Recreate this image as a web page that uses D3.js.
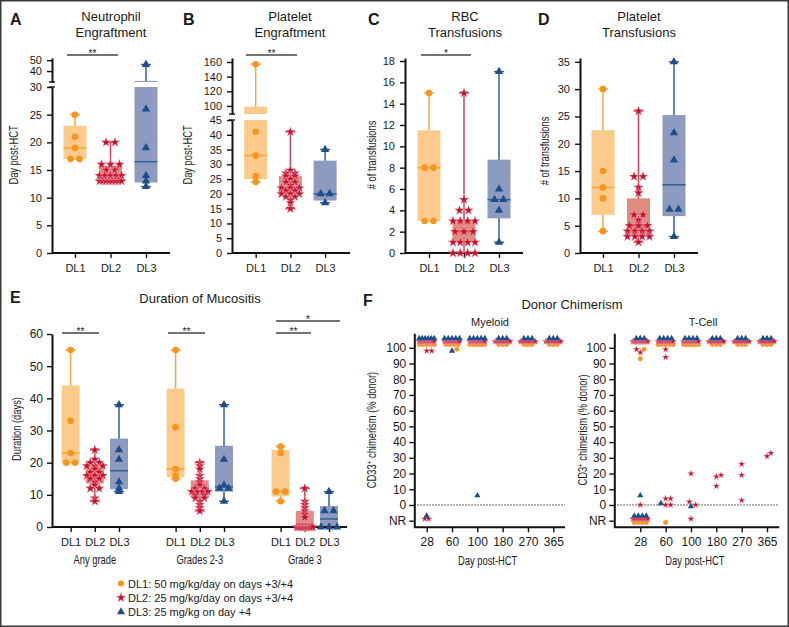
<!DOCTYPE html>
<html>
<head>
<meta charset="utf-8">
<script src="https://cdn.jsdelivr.net/npm/d3@7"></script>
<style>
  body { margin: 0; background: #fff; }
  svg { display: block; }
  text { font-family: "Liberation Sans", Arial, Helvetica, sans-serif; fill: #1a1a1a; }
</style>
</head>
<body>
<script>
// ---- data ----
var doseLevels = ["DL1", "DL2", "DL3"];
var doseLabels = ["DL1: 50 mg/kg/day on days +3/+4", "DL2: 25 mg/kg/day on days +3/+4", "DL3: 25 mg/kg on day +4"];

// A neutrophil engraftment (day post-HCT)
var neutDL1 = [25, 21, 19, 17, 17];
var neutDL2 = [20, 20, 16, 16, 16, 15, 15, 14, 14, 14, 14, 14, 13, 13, 13, 13, 13, 13, 13, 13];
var neutDL3 = [46, 26, 19, 14, 13, 12];
// B platelet engraftment
var pltEngDL1 = [157, 41, 33, 26, 24];
var pltEngDL2 = [41, 28, 27, 27, 26, 26, 25, 24, 24, 23, 22, 22, 22, 21, 21, 20, 20, 20, 19, 19, 18, 17, 15];
var pltEngDL3 = [35, 20, 20, 17];
// C RBC transfusions
var rbcDL1 = [15, 8, 8, 3, 3];
var rbcDL2 = [15, 5, 4, 4, 3, 3, 3, 3, 2, 2, 2, 1, 1, 1, 1, 0, 0, 0, 0];
var rbcDL3 = [17, 6, 5, 5, 4, 1];
// D platelet transfusions
var pltTxDL1 = [30, 15, 12, 10, 4];
var pltTxDL2 = [26, 14, 14, 12, 11, 7, 7, 6, 5, 5, 5, 4, 4, 4, 4, 3, 3, 3, 3, 2];
var pltTxDL3 = [35, 22, 17, 8, 8, 3];
// E duration of mucositis (days)
var mucGrades = ["Any grade", "Grades 2-3", "Grade 3"];
var mucAnyDL1 = [55, 33, 23, 20, 20];
var mucAnyDL2 = [24, 21, 20, 20, 19, 19, 19, 18, 17, 17, 16, 16, 16, 15, 15, 14, 13, 12, 12, 9, 8];
var mucAnyDL3 = [38, 24, 21, 14, 12, 11];
var mucG23DL1 = [55, 31, 18, 16, 15];
var mucG23DL2 = [20, 19, 18, 16, 15, 14, 13, 12, 12, 11, 11, 11, 11, 10, 10, 9, 9, 8, 7, 6, 5];
var mucG23DL3 = [38, 21, 13, 12, 12, 8];
var mucG3DL1 = [25, 23, 11, 11, 8];
var mucG3DL2 = [12, 8, 7, 6, 5, 4, 3, 0, 0, 0, 0, 0, 0, 0, 0, 0, 0, 0, 0];
var mucG3DL3 = [11, 5, 5, 0, 0, 0];

// F donor chimerism: [day, % donor or "NR", number of patients]
var chimDays = ["28", "60", "100", "180", "270", "365"];
var myeloidDL1 = [["28", 100, 5], ["60", 100, 4], ["60", 99, 1], ["100", 100, 6], ["180", 100, 3], ["270", 100, 3], ["365", 100, 3]];
var myeloidDL2 = [["28", 100, 18], ["28", 98, 1], ["28", 98, 1], ["28", "NR", 2], ["60", 100, 16], ["100", 100, 18],
                  ["180", 100, 12], ["270", 100, 10], ["365", 100, 10]];
var myeloidDL3 = [["28", 100, 6], ["28", "NR", 1], ["60", 100, 5], ["60", 98, 1], ["100", 100, 5], ["100", 6, 1],
                  ["180", 100, 3], ["270", 100, 3], ["365", 100, 3]];
var tcellDL1 = [["28", 99, 1], ["28", 93, 1], ["28", "NR", 4], ["60", 100, 5], ["60", "NR", 1], ["100", 100, 7],
                ["180", 100, 3], ["270", 100, 3], ["365", 100, 3]];
var tcellDL2 = [["28", 100, 15], ["28", 99, 1], ["28", 97, 1], ["28", 0, 1], ["28", "NR", 10],
                ["60", 100, 14], ["60", 99, 1], ["60", 94, 1], ["60", 4, 1], ["60", 4, 1], ["60", 0, 1], ["60", 0, 1],
                ["100", 100, 16], ["100", 20, 1], ["100", 2, 1], ["100", 0, 1], ["100", "NR", 1],
                ["180", 100, 12], ["180", 19, 1], ["180", 18, 1], ["180", 12, 1],
                ["270", 100, 10], ["270", 26, 1], ["270", 19, 1], ["270", 3, 1],
                ["365", 100, 10], ["365", 33, 1], ["365", 31, 1]];
var tcellDL3 = [["28", 100, 3], ["28", 6, 1], ["28", "NR", 4], ["60", 100, 4], ["60", 1, 1], ["100", 100, 4], ["100", -1, 1],
                ["180", 100, 3], ["270", 100, 3], ["365", 100, 3]];

// ---- styles ----
var colors = {DL1: "#F7941D", DL2: "#C8102E", DL3: "#1D4E89"};
var lineColors = {DL1: "#F8A441", DL2: "#D3405A", DL3: "#2E5F98"};
var fills = {DL1: "#FCCB8C", DL2: "#E08B80", DL3: "#8D9BC0"};
var shapes = {DL1: d3.symbolCircle, DL2: d3.symbolStar, DL3: d3.symbolTriangle};
var boxSizes = {DL1: 34, DL2: 30, DL3: 30};
var chimSizes = {DL1: 19, DL2: 15, DL3: 17};
var legendSizes = {DL1: 28, DL2: 30, DL3: 28};
// rows of 100% / NR values are drawn slightly apart per dose level so they don't hide each other
var fullNudge = {DL1: 2, DL2: 4, DL3: 6};
var nrNudge = {DL1: -1.2, DL2: 1.2, DL3: 3};

var svg = d3.select("body").append("svg").attr("width", 789).attr("height", 627);
svg.append("rect")
    .attr("x", 0.75).attr("y", 0.75).attr("width", 787.5).attr("height", 625.5)
    .attr("fill", "#fff").attr("stroke", "#3a3a3a").attr("stroke-width", 1.5);

function marker(g, dl, size, x, y) {
    g.append("path")
        .attr("d", d3.symbol().type(shapes[dl]).size(size)())
        .attr("transform", "translate(" + x + "," + y + ")")
        .attr("fill", colors[dl])
        .attr("stroke", dl === "DL2" ? "#f0b9c1" : "none")
        .attr("stroke-width", 0.4);
}

// quartiles the way Prism does it (position p*(n+1))
function quartile(s, p) {
    var n = s.length, pos = p * (n + 1);
    if (pos <= 1) return s[0];
    if (pos >= n) return s[n - 1];
    var i = Math.floor(pos);
    return s[i - 1] + (pos - i) * (s[i] - s[i - 1]);
}
function boxStats(vals) {
    var s = vals.slice().sort(d3.ascending);
    return {min: s[0], q1: quartile(s, 0.25), med: quartile(s, 0.5), q3: quartile(s, 0.75), max: s[s.length - 1]};
}

function styleAxis(sel, fontSize) {
    sel.select(".domain").attr("stroke", "#111").attr("stroke-width", 2);
    sel.selectAll(".tick line").attr("stroke", "#111").attr("stroke-width", 1.4);
    sel.selectAll(".tick text").attr("font-size", fontSize).attr("fill", "#1a1a1a");
}

function narrowText(x, y, txt, size, rotate) {
    return svg.append("text")
        .attr("transform", "translate(" + x + "," + y + ")" + (rotate ? " rotate(-90)" : "") + " scale(0.78,1)")
        .attr("text-anchor", "middle")
        .attr("font-size", size)
        .text(txt);
}

function title(x, y, lines, size) {
    lines.forEach(function (l, i) {
        svg.append("text").attr("x", x).attr("y", y + i * 16).attr("text-anchor", "middle")
            .attr("font-size", size).text(l);
    });
}

function letter(x, y, t) {
    svg.append("text").attr("x", x).attr("y", y).attr("font-size", 16).attr("font-weight", "bold").text(t);
}

function sigBar(x1, x2, y, label) {
    svg.append("line").attr("x1", x1).attr("x2", x2).attr("y1", y).attr("y2", y)
        .attr("stroke", "#444").attr("stroke-width", 1.3);
    svg.append("text").attr("x", (x1 + x2) / 2).attr("y", y + 1.5).attr("text-anchor", "middle")
        .attr("font-size", 10).text(label);
}

// ---- box + scatter panels ----
function drawBoxPanel(p) {
    var inner = d3.scalePoint().domain(doseLevels).range([-p.d, p.d]);
    var g = svg.append("g");
    var scales = [];

    p.segments.forEach(function (seg, si) {
        var y = d3.scaleLinear().domain(seg.domain).range(seg.range);
        scales.push(y);
        var clipId = p.id + "clip" + si;
        svg.append("clipPath").attr("id", clipId).append("rect")
            .attr("x", p.x0 + 1).attr("y", seg.range[1])
            .attr("width", p.x1 - p.x0).attr("height", seg.range[0] - seg.range[1]);
        var cg = g.append("g").attr("clip-path", "url(#" + clipId + ")");

        p.groups.forEach(function (grp) {
            grp.series.forEach(function (vals, i) {
                var dl = doseLevels[i], b = boxStats(vals), cx = grp.center + inner(dl);
                cg.append("line").attr("x1", cx).attr("x2", cx).attr("y1", y(b.min)).attr("y2", y(b.max))
                    .attr("stroke", lineColors[dl]).attr("stroke-width", 1.5);
                [b.min, b.max].forEach(function (v) {
                    cg.append("line").attr("x1", cx - p.capW / 2).attr("x2", cx + p.capW / 2)
                        .attr("y1", y(v)).attr("y2", y(v))
                        .attr("stroke", lineColors[dl]).attr("stroke-width", 1.5);
                });
                cg.append("rect").attr("x", cx - p.boxW / 2).attr("width", p.boxW)
                    .attr("y", y(b.q3)).attr("height", Math.max(0, y(b.q1) - y(b.q3)))
                    .attr("fill", fills[dl]);
                cg.append("line").attr("x1", cx - p.boxW / 2).attr("x2", cx + p.boxW / 2)
                    .attr("y1", y(b.med)).attr("y2", y(b.med))
                    .attr("stroke", lineColors[dl]).attr("stroke-width", 1.5);
            });
        });

        var ax = g.append("g").attr("transform", "translate(" + p.x0 + ",0)")
            .call(d3.axisLeft(y).tickValues(seg.ticks).tickSize(5).tickPadding(p.tickPad).tickSizeOuter(0));
        styleAxis(ax, p.tickFont);
    });

    // axis break caps
    if (p.segments.length > 1) {
        [p.segments[0].range[1], p.segments[1].range[0]].forEach(function (yy) {
            g.append("line").attr("x1", p.x0 - 3).attr("x2", p.x0 + 3).attr("y1", yy).attr("y2", yy)
                .attr("stroke", "#111").attr("stroke-width", 1.4);
        });
    }

    // x axis
    g.append("line").attr("x1", p.x0).attr("x2", p.x1).attr("y1", p.yb).attr("y2", p.yb)
        .attr("stroke", "#111").attr("stroke-width", 2);
    p.groups.forEach(function (grp) {
        var xa = g.append("g").attr("transform", "translate(" + grp.center + "," + p.yb + ")")
            .call(d3.axisBottom(inner).tickSize(5).tickPadding(6).tickSizeOuter(0));
        xa.select(".domain").remove();
        styleAxis(xa, p.xFont);
    });

    // points, equal values side by side
    p.groups.forEach(function (grp) {
        grp.series.forEach(function (vals, i) {
            var dl = doseLevels[i], cx = grp.center + inner(dl);
            d3.groups(vals, function (v) { return v; }).forEach(function (gr) {
                var v = gr[0], k = gr[1].length;
                var si = p.segments.findIndex(function (seg) { return v >= seg.domain[0] && v <= seg.domain[1]; });
                if (si < 0) return;
                var step = k > 1 ? Math.min(9, p.spread / (k - 1)) : 0;
                for (var j = 0; j < k; j++) {
                    marker(g, dl, boxSizes[dl], cx + (j - (k - 1) / 2) * step, scales[si](v));
                }
            });
        });
    });
}

drawBoxPanel({
    id: "A", x0: 52, x1: 170, yb: 253, d: 35.5, boxW: 23, capW: 10, spread: 22, tickFont: 11, tickPad: 5, xFont: 11,
    segments: [{domain: [0, 30], range: [253, 87], ticks: d3.range(0, 31, 5)},
               {domain: [30, 52], range: [82, 58], ticks: [40, 50]}],
    groups: [{center: 110.5, series: [neutDL1, neutDL2, neutDL3]}]
});
drawBoxPanel({
    id: "B", x0: 232, x1: 350, yb: 253, d: 34.7, boxW: 23, capW: 10, spread: 22, tickFont: 11, tickPad: 5, xFont: 11,
    segments: [{domain: [0, 45], range: [253, 120], ticks: d3.range(0, 46, 5)},
               {domain: [89, 165.5], range: [114, 58], ticks: [100, 120, 140, 160]}],
    groups: [{center: 290.4, series: [pltEngDL1, pltEngDL2, pltEngDL3]}]
});
drawBoxPanel({
    id: "C", x0: 405, x1: 523, yb: 253, d: 35, boxW: 23, capW: 10, spread: 22, tickFont: 11, tickPad: 5, xFont: 11,
    segments: [{domain: [0, 18.28], range: [253, 58], ticks: d3.range(0, 19, 2)}],
    groups: [{center: 464, series: [rbcDL1, rbcDL2, rbcDL3]}]
});
drawBoxPanel({
    id: "D", x0: 580, x1: 698, yb: 253, d: 35.5, boxW: 23, capW: 10, spread: 22, tickFont: 11, tickPad: 5, xFont: 11,
    segments: [{domain: [0, 35.7], range: [253, 58], ticks: d3.range(0, 36, 5)}],
    groups: [{center: 638.5, series: [pltTxDL1, pltTxDL2, pltTxDL3]}]
});

var mucX = d3.scalePoint().domain(mucGrades).range([94.8, 304.8]);
drawBoxPanel({
    id: "E", x0: 52, x1: 347, yb: 527, d: 24.2, boxW: 18, capW: 10, spread: 16, tickFont: 12, tickPad: 4, xFont: 11,
    segments: [{domain: [0, 60], range: [527, 334], ticks: d3.range(0, 61, 10)}],
    groups: [{center: mucX("Any grade"), series: [mucAnyDL1, mucAnyDL2, mucAnyDL3]},
             {center: mucX("Grades 2-3"), series: [mucG23DL1, mucG23DL2, mucG23DL3]},
             {center: mucX("Grade 3"), series: [mucG3DL1, mucG3DL2, mucG3DL3]}]
});

// titles, labels, significance bars
letter(10, 25, "A"); letter(183, 25, "B"); letter(368, 25, "C"); letter(538, 25, "D");
letter(10, 303, "E"); letter(363, 306, "F");
title(111, 21, ["Neutrophil", "Engraftment"], 13);
title(290, 21, ["Platelet", "Engraftment"], 13);
title(465, 21, ["RBC", "Transfusions"], 13);
title(639, 21, ["Platelet", "Transfusions"], 13);
narrowText(18, 155, "Day post-HCT", 12, true);
narrowText(192, 155, "Day post-HCT", 12, true);
narrowText(376, 155, "# of transfusions", 12, true);
narrowText(549, 151, "# of transfusions", 12, true);
sigBar(67, 118, 55, "**");
sigBar(246, 297, 55, "**");
sigBar(421, 471, 55, "*");

svg.append("text").attr("x", 200).attr("y", 303).attr("text-anchor", "middle").attr("font-size", 13)
    .text("Duration of Mucositis");
narrowText(21, 429, "Duration (days)", 12, true);
mucGrades.forEach(function (gname) { narrowText(mucX(gname), 564, gname, 12, false); });
sigBar(62, 99, 333, "**");
sigBar(168, 205, 333, "**");
sigBar(276, 311, 333, "**");
sigBar(276, 340, 321, "*");

// legend
doseLevels.forEach(function (dl, i) {
    var yy = 583.5 + i * 14.2;
    marker(svg, dl, legendSizes[dl], 121, yy);
    svg.append("text").attr("x", 128).attr("y", yy + 4).attr("font-size", 11).text(doseLabels[i]);
});

// ---- chimerism panels ----
function drawChimPanel(p) {
    var x = d3.scalePoint().domain(chimDays).range([p.c0, p.c1]);
    var y = d3.scaleLinear().domain([-14.2, 109.2]).range([527.3, 333.3]);
    var g = svg.append("g");

    g.append("line").attr("x1", p.x0).attr("x2", p.x1).attr("y1", y(0)).attr("y2", y(0))
        .attr("stroke", "#333").attr("stroke-width", 1).attr("stroke-dasharray", "1.5,1.5");
    var ya = g.append("g").attr("transform", "translate(" + p.x0 + ",0)")
        .call(d3.axisLeft(y).tickValues(d3.range(-10, 101, 10))
            .tickFormat(function (v) { return v === -10 ? "NR" : v; })
            .tickSize(5).tickPadding(3).tickSizeOuter(0));
    styleAxis(ya, 12);
    g.append("line").attr("x1", p.x0).attr("x2", p.x1).attr("y1", 527.3).attr("y2", 527.3)
        .attr("stroke", "#111").attr("stroke-width", 2);
    var xa = g.append("g").attr("transform", "translate(0,527.3)")
        .call(d3.axisBottom(x).tickSize(5).tickPadding(5).tickSizeOuter(0));
    xa.select(".domain").remove();
    styleAxis(xa, 12);

    var singles = [];
    p.series.forEach(function (entries, i) {
        var dl = doseLevels[i];
        entries.forEach(function (e) {
            var day = e[0], v = e[1], k = e[2];
            if (v === 100 || v === "NR") {
                var yy = v === 100 ? y(100 + fullNudge[dl]) : y(-10 + nrNudge[dl]);
                var step = k > 1 ? Math.min(4, 15 / (k - 1)) : 0;
                for (var j = 0; j < k; j++) marker(g, dl, chimSizes[dl], x(day) + (j - (k - 1) / 2) * step, yy);
            } else {
                for (var j2 = 0; j2 < k; j2++) singles.push({dl: dl, day: day, v: v});
            }
        });
    });

    // simple beeswarm for the scattered values
    var D = 5;
    d3.groups(singles, function (d) { return d.day; }).forEach(function (gr) {
        var placed = [];
        gr[1].sort(function (a, b) { return a.v - b.v; }).forEach(function (pt) {
            var py = y(pt.v), cands = [0];
            placed.forEach(function (q) {
                var dy = Math.abs(q.py - py);
                if (dy < D) {
                    var w = Math.sqrt(D * D - dy * dy);
                    cands.push(q.dx + w, q.dx - w);
                }
            });
            cands.sort(function (a, b) { return Math.abs(a) - Math.abs(b); });
            var dx = cands.find(function (c) {
                return placed.every(function (q) { return (c - q.dx) * (c - q.dx) + (q.py - py) * (q.py - py) >= D * D - 0.01; });
            });
            pt.dx = dx; pt.py = py;
            placed.push(pt);
        });
    });
    singles.forEach(function (pt) { marker(g, pt.dl, chimSizes[pt.dl], x(pt.day) + pt.dx, pt.py); });

    svg.append("text").attr("x", p.titleX).attr("y", 325.5).attr("text-anchor", "middle").attr("font-size", 11).text(p.title);
    narrowText((p.x0 + p.x1) / 2 - 2, 565, "Day post-HCT", 12, false);
    var lab = svg.append("text")
        .attr("transform", "translate(" + p.labelX + ",430) rotate(-90) scale(0.78,1)")
        .attr("text-anchor", "middle").attr("font-size", 12);
    lab.append("tspan").text(p.cd);
    lab.append("tspan").attr("dy", -4).attr("font-size", 8).text("+");
    lab.append("tspan").attr("dy", 4).attr("font-size", 12).text(" chimerism (% donor)");
}

svg.append("text").attr("x", 572).attr("y", 308.5).attr("text-anchor", "middle").attr("font-size", 13)
    .text("Donor Chimerism");
drawChimPanel({x0: 414.3, x1: 565, c0: 426.7, c1: 553.3, title: "Myeloid", titleX: 490, labelX: 376, cd: "CD33",
    series: [myeloidDL1, myeloidDL2, myeloidDL3]});
drawChimPanel({x0: 614.3, x1: 779.3, c0: 640.3, c1: 767, title: "T-Cell", titleX: 703, labelX: 587, cd: "CD3",
    series: [tcellDL1, tcellDL2, tcellDL3]});
</script>
</body>
</html>
